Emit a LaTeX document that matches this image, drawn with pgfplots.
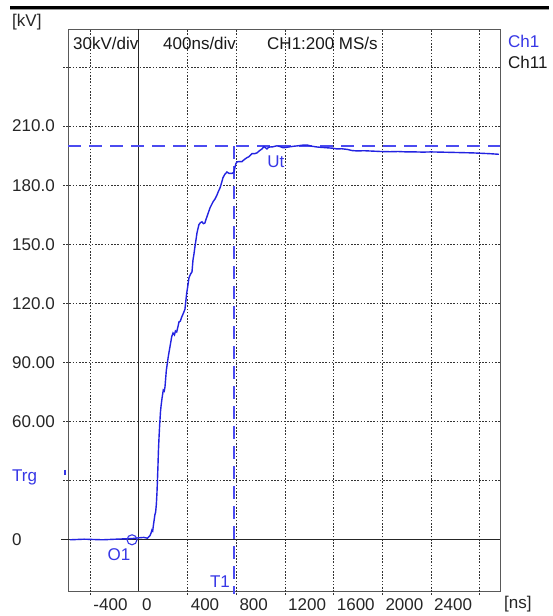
\documentclass[border=0pt]{standalone}
\usepackage{pgfplots}
\pgfplotsset{compat=1.18}
\usepackage{fontspec}
\setmainfont{Liberation Sans}
\newcommand\sz{\fontsize{17}{20}\selectfont}
\definecolor{trace}{RGB}{35,35,225}
\definecolor{cursor}{RGB}{75,75,240}
\definecolor{lbl}{RGB}{55,55,230}
\tikzset{gridln/.style={black!80, line width=0.7pt, dash pattern=on 1.6pt off 1.6pt}}
\begin{document}
\begin{tikzpicture}
% page frame: 552 x 616 (1pt per screen pixel)
\useasboundingbox (0pt,0pt) rectangle (552pt,616pt);
\fill[white] (0pt,0pt) rectangle (552pt,616pt);
% header bar
\draw[black, line width=3pt] (10pt,608.5pt) -- (549pt,608.5pt);
\draw[black!40, line width=0.8pt] (10pt,606.4pt) -- (549pt,606.4pt);
\begin{axis}[
  at={(68pt,25pt)}, anchor=south west,
  scale only axis, width=432pt, height=562pt,
  xmin=-583, xmax=2967, ymin=-26, ymax=259.3,
  axis line style={draw=black!65, line width=0.8pt},
  xtick={-400,0,400,800,1200,1600,2000,2400},
  xticklabels={-400,0,400,800,1200,1600,2000,2400},
  ytick={0,60,90,120,150,180,210},
  yticklabels={0,60.00,90.00,120.0,150.0,180.0,210.0},
  major tick length=0pt,
  tick label style={font=\sz, text=black!85},
  xticklabel style={anchor=west, inner sep=0pt, xshift=3pt, yshift=-14pt},
  yticklabel style={anchor=west, inner sep=0pt, xshift=-56pt},
  clip=false,
]
% graticule
\pgfplotsinvokeforeach{-400,400,800,1200,1600,2000,2400,2800}{
  \draw[gridln] (axis cs:#1,-28) -- (axis cs:#1,259.3);}
\pgfplotsinvokeforeach{30,60,90,120,150,180,210,240}{
  \draw[gridln] (axis cs:-624,#1) -- (axis cs:2967,#1);}
% zero axes
\draw[black!85, line width=1pt] (axis cs:-640,0) -- (axis cs:2967,0);
\draw[black!85, line width=1pt] (axis cs:0,-26) -- (axis cs:0,259.3);
% Ut level and T1 cursor
\draw[cursor, line width=1.6pt, dash pattern=on 13pt off 8pt] (axis cs:-583,200) -- (axis cs:2967,200);
\draw[cursor, line width=2pt, dash pattern=on 13pt off 7pt] (axis cs:780,200) -- (axis cs:780,-27.5);
% CH1 voltage trace
\addplot[trace, line width=1.4pt, no markers] coordinates {
(-567,0) (-450,0.3) (-300,0) (-150,0.4) (-60,0.6) (0,1) (40,1.2) (70,0.8) (90,2)
(100,3.5) (107,5) (113,4.5) (118,7) (125,10) (131,12.7) (137,14) (143,18)
(148,23.8) (152,30) (156,37) (160,45) (165,52) (170,58) (173,61) (177,65)
(181,67.5) (190,72) (200,76) (208,75.5) (214,77.6) (225,86) (241,93)
(255,98) (269,103) (280,105) (292,104) (300,106) (310,105.5) (320,108)
(329,110.6) (340,111) (351,113) (365,115) (378,117) (392,125) (402,129)
(411,133) (425,135) (436,136) (444,142) (452,145) (460,148.7) (468,152)
(477,155.8) (485,158) (493,160) (505,161) (518,161.4) (530,160.5) (542,160.8)
(550,162.5) (559,164) (570,166) (584,168.5) (596,170) (608,171.5) (625,173)
(641,175) (654,177) (666,178.6) (678,181) (690,183.7) (705,185.5) (723,186.7)
(740,186) (764,186) (780,186.5) (789,189) (797,191) (805,191.8) (825,192)
(847,192) (865,193) (888,194) (905,194.5) (929,196) (950,196) (970,196.4)
(990,197.5) (1011,198.4) (1027,199.6) (1040,199) (1052,198.4) (1065,199.2)
(1077,199.4) (1101,199.5) (1120,199.8) (1134,200) (1160,199.6) (1184,199)
(1210,199.2) (1241,199.5) (1275,199.8) (1307,200) (1340,200.3) (1381,200.4)
(1420,199.8) (1463,199.4) (1500,199.2) (1545,199) (1590,198.8) (1627,198.4)
(1665,198.5) (1710,198.2) (1750,197.6) (1792,197.4) (1850,197.5) (1923,197.3)
(1990,197.1) (2063,197) (2130,197.1) (2203,196.9) (2270,196.9) (2334,196.8)
(2400,196.9) (2474,196.8) (2545,196.7) (2614,196.6) (2680,196.5) (2745,196.4)
(2815,196.2) (2885,196) (2958,195.7)
};
% cursor markers and labels
\node[draw=lbl, circle, line width=1.1pt, minimum size=10pt, inner sep=0pt] at (axis cs:-57,0) {};
\node[lbl, font=\sz, inner sep=0pt] at (axis cs:-164,-7.6) {O1};
\node[lbl, font=\sz, inner sep=0pt] at (axis cs:666,-21.3) {T1};
\node[lbl, font=\sz, inner sep=0pt] at (axis cs:1126,191.8) {Ut};
\end{axis}
% header text inside the screen
\node[anchor=west, inner sep=0pt, font=\sz, text=black!90] at (73pt,573pt) {30kV/div};
\node[anchor=west, inner sep=0pt, font=\sz, text=black!90] at (163pt,573pt) {400ns/div};
\node[anchor=west, inner sep=0pt, font=\sz, text=black!90] at (267pt,573pt) {CH1:200 MS/s};
% channel legend
\node[anchor=west, inner sep=0pt, font=\sz, text=lbl] at (508pt,575pt) {Ch1};
\node[anchor=west, inner sep=0pt, font=\sz, text=black!90] at (508pt,554pt) {Ch11};
% units
\node[anchor=west, inner sep=0pt, font=\sz, text=black!85] at (12pt,594pt) {[kV]};
\node[anchor=west, inner sep=0pt, font=\sz, text=black!85] at (504pt,12pt) {[ns]};
% trigger level
\node[anchor=west, inner sep=0pt, font=\sz, text=lbl] at (12pt,139pt) {Trg};
\draw[lbl, line width=1.5pt] (65pt,146pt) -- (65pt,141pt);
\end{tikzpicture}
\end{document}
